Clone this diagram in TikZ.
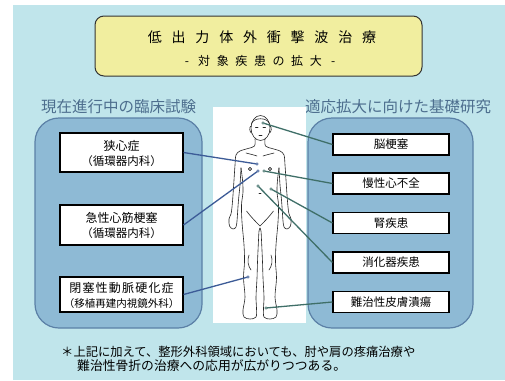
\documentclass[tikz,border=0pt]{standalone}
\usepackage{fontspec}
\setmainfont{Noto Sans CJK JP}
\definecolor{bgcyan}{HTML}{C0E5EB}
\definecolor{panelfill}{HTML}{8EBAD5}
\definecolor{paneledge}{HTML}{5B80A6}
\definecolor{titlefill}{HTML}{F1EE9F}
\definecolor{headcol}{HTML}{4D6E8E}
\definecolor{leftline}{HTML}{3C5B97}
\definecolor{rightline}{HTML}{3F6F68}
\newcommand{\fs}[1]{\fontsize{#1}{#1}\selectfont}
% full-width brackets around a department name
\newcommand{\dept}[1]{\makebox[1em][r]{（}#1\makebox[1em][l]{）}}
\begin{document}
\begin{tikzpicture}[x=1pt,y=-1pt,
  panel/.style={draw=paneledge, line width=1.2pt, fill=panelfill, rounded corners=24pt},
  lbox/.style={draw=black, line width=1.1pt, fill=white, minimum width=123pt, align=center, inner sep=0pt, font=\fs{12}, text depth=0pt},
  rbox/.style={draw=black, line width=1.1pt, fill=white, minimum width=116pt, minimum height=21pt, inner sep=0pt, font=\fs{11.5}},
  heading/.style={text=headcol, font=\fs{15.5}, inner sep=0pt},
  body/.style={draw=black!85, line width=0.6pt, line join=round, line cap=round},
  llink/.style={draw=leftline, line width=1.3pt},
  rlink/.style={draw=rightline, line width=1.3pt},
  dot/.style={line width=0.6pt, fill=white}
]
\useasboundingbox (0,0) rectangle (505,380);
\fill[white] (0,0) rectangle (505,380);
\fill[bgcyan] (13,5) rectangle (505,380);

% title
\draw[fill=titlefill, draw=black!80, line width=1pt, rounded corners=9pt] (95,16) rectangle (422,76);
\node[inner sep=0pt] (title) at (262,37) {\fs{14}\addfontfeature{LetterSpace=70}低出力体外衝撃波治療};
\node[inner sep=0pt] (subtitle) at (260,61) {\fs{12}\addfontfeature{LetterSpace=55}- 対象疾患の拡大 -};

% headings
\node[heading] (hl) at (118.5,107) {現在進行中の臨床試験};
\node[heading] (hr) at (398,107) {適応拡大に向けた基礎研究};

% panels
\draw[panel] (35,118) rectangle (202,328);
\draw[panel] (308,118) rectangle (473,328);

% figure background
\fill[white] (213,107) rectangle (306,323);

% human figure
\draw[body] plot[smooth, tension=0.55] coordinates {
 (255,139) (254.5,146) (248,148.5) (240,151) (236,155) (235,165) (234,180)
 (233,195) (232,207) (231,214) (229,219) (229.5,226) (233,229) (236,227)
 (237,221) (237.5,214) (238.5,200) (240,185) (241,168)};
\draw[body] plot[smooth, tension=0.55] coordinates {
 (241,168) (242.5,180) (243,192) (241.5,205) (242,222) (244,245) (244.5,262)
 (243.5,278) (245,297) (243,310) (244,317) (250,319) (256,317) (256.5,308)
 (256,297) (257,278) (257.5,262) (258.5,240) (259,231) (260,228)};
\draw[body] plot[smooth, tension=0.55] coordinates {
 (260,228) (261,231) (261.5,240) (262.5,262) (263,278) (264,297) (263.5,308)
 (264,317) (270,319) (276,317) (277,310) (275,297) (276.5,278) (275.5,262)
 (276,245) (278,222) (278.5,205) (277,192) (277.5,180) (279,168)};
\draw[body] plot[smooth, tension=0.55] coordinates {
 (279,168) (280,185) (281.5,200) (282.5,214) (283,221) (284,227) (287,229)
 (290.5,226) (291,219) (289,214) (288,207) (287,195) (286,180) (285,165)
 (284,155) (280,151) (272,148.5) (265.5,146) (265,139)};
% head
\draw[body] (260.5,128) ellipse [x radius=9.5, y radius=12.5];
\draw[body] (251.5,124) .. controls (253,117) and (268,117) .. (269.5,124);
\draw[body] (251,126) .. controls (249,127) and (249.5,132) .. (251.5,133);
\draw[body] (270,126) .. controls (272,127) and (271.5,132) .. (269.5,133);
\draw[body] (255.5,127) -- (258,127) (263,127) -- (265.5,127) (259,135) -- (262,135);
% chest and torso details
\draw[body] (246,153) .. controls (250,154) and (254,155) .. (257,156);
\draw[body] (274,153) .. controls (270,154) and (266,155) .. (263,156);
\draw[body] (250,169) circle (1.6) (270,169) circle (1.6);
\draw[body] (259,193) -- (261,193);
\draw[body] (246.5,211) .. controls (251,217) and (256,222) .. (260,226)
            .. controls (264,222) and (269,217) .. (273.5,211);
\draw[body] (249,255) .. controls (247,260) and (248,266) .. (251,270);
\draw[body] (271,255) .. controls (273,260) and (272,266) .. (269,270);

% left boxes
\node[lbox, minimum height=39pt] (b1) at (121.5,152.5)
  {狭心症\\[3pt]{\fs{11.5}\dept{循環器内科}}};
\node[lbox, minimum height=40pt] (b2) at (121.5,225)
  {急性心筋梗塞\\[3pt]{\fs{11.5}\dept{循環器内科}}};
\node[lbox, minimum height=35pt] (b3) at (121.5,294.5)
  {{\addfontfeature{LetterSpace=10}閉塞性動脈硬化症}\\[3pt]{\fs{10.5}\dept{移植再建内視鏡外科}}};

% right boxes
\node[rbox] (r1) at (391,144.5) {脳梗塞};
\node[rbox] (r2) at (391,183.5) {慢性心不全};
\node[rbox] (r3) at (391,223) {腎疾患};
\node[rbox] (r4) at (391,262.5) {消化器疾患};
\node[rbox] (r5) at (391,302) {難治性皮膚潰瘍};

% target points on the figure
\coordinate (p1) at (257,164);
\coordinate (p2) at (258,171);
\coordinate (p3) at (248,277);
\coordinate (q1) at (263,123);
\coordinate (q2) at (264,171);
\coordinate (q3) at (271,189);
\coordinate (q4) at (258,186);
\coordinate (q5) at (266,308);

% connectors
\draw[llink] (b1.east) -- (p1);
\draw[llink] (b2.east) -- (p2);
\draw[llink] (b3.east) -- (p3);
\draw[rlink] (q1) -- (r1.west);
\draw[rlink] (q2) -- (r2.west);
\draw[rlink] (q3) -- (r3.west);
\draw[rlink] (q4) -- (r4.west);
\draw[rlink] (q5) -- (r5.west);
\foreach \p in {p1,p2,p3} \draw[dot, draw=leftline] (\p) circle (1.3);
\foreach \q in {q1,q2,q3,q4,q5} \draw[dot, draw=rightline] (\q) circle (1.3);

% note
\node[anchor=west, inner sep=0pt, font=\fs{12.3}] (n1) at (61,352)
  {＊上記に加えて、整形外科領域においても、肘や肩の疼痛治療や};
\node[anchor=west, inner sep=0pt, font=\fs{12.8}] (n2) at (77,366)
  {難治性骨折の治療への応用が広がりつつある。};
\end{tikzpicture}
\end{document}
